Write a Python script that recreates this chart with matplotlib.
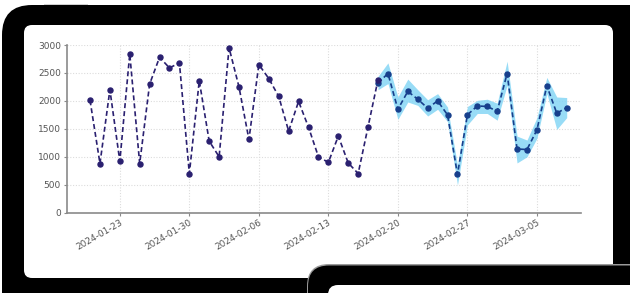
import matplotlib
matplotlib.use("Agg")
import matplotlib.pyplot as plt
import matplotlib.dates as mdates
from matplotlib.patches import FancyBboxPatch
import numpy as np
import pandas as pd

# historical series (daily)
hist_start = "2024-01-20"
hist_values = [2010, 880, 2200, 920, 2840, 880, 2300, 2780, 2590, 2680,
               700, 2360, 1280, 1000, 2950, 2250, 1310, 2650, 2400, 2080,
               1460, 1990, 1530, 1000, 900, 1370, 890, 700, 1540, 2380]

# forecast series with confidence band
fc_start = "2024-02-18"
fc_values = [2320, 2490, 1850, 2170, 2030, 1870, 2000, 1750, 685, 1750,
             1910, 1900, 1815, 2490, 1140, 1130, 1480, 2270, 1780, 1880]
fc_upper = [2440, 2680, 2070, 2390, 2200, 2020, 2130, 1890, 850, 1900,
            2010, 2030, 1960, 2710, 1370, 1300, 1700, 2420, 2070, 2060]
fc_lower = [2200, 2310, 1670, 1980, 1920, 1730, 1850, 1630, 495, 1570,
            1775, 1775, 1655, 2280, 890, 1000, 1330, 2130, 1490, 1700]

tick_dates = ["2024-01-23", "2024-01-30", "2024-02-06", "2024-02-13",
              "2024-02-20", "2024-02-27", "2024-03-05"]

hist_dates = pd.date_range(hist_start, periods=len(hist_values), freq="D")
fc_dates = pd.date_range(fc_start, periods=len(fc_values), freq="D")

W, H = 630, 293
fig = plt.figure(figsize=(W / 100, H / 100), dpi=100)
fig.patch.set_facecolor("white")

# device frame drawn in pixel coordinates
bg = fig.add_axes([0, 0, 1, 1], zorder=0)
bg.set_xlim(0, W)
bg.set_ylim(H, 0)
bg.axis("off")

def rbox(x0, y0, x1, y1, r, color, z):
    bg.add_patch(FancyBboxPatch((x0 + r, y0 + r), (x1 - x0) - 2 * r, (y1 - y0) - 2 * r,
                                boxstyle=f"round,pad={r}", fc=color, ec="none", zorder=z))

rbox(2, 5, 680, 340, 30, "black", 1)
rbox(24, 25, 613, 278, 8, "white", 2)
bg.add_patch(plt.Rectangle((44, 3.5), 44, 1.5, fc="#d0d0d0", ec="none", zorder=0.5))
rbox(307, 264, 700, 400, 22, "#9a9a9a", 3)
rbox(308, 265.5, 700, 400, 21, "black", 3.5)
rbox(328, 285, 700, 400, 10, "white", 4)

# chart axes
ax_l, ax_r, ax_t, ax_b = 66.5, 580.7, 45, 212.7
ax = fig.add_axes([ax_l / W, (H - ax_b) / H, (ax_r - ax_l) / W, (ax_b - ax_t) / H], zorder=5)
ax.set_facecolor("white")

ax.fill_between(fc_dates, fc_lower, fc_upper, color="#86d6f5", alpha=0.85, lw=0, zorder=2)
ax.plot(fc_dates, fc_values, ls="--", dashes=(3, 1.8), color="#173f8c", lw=1.2,
        marker="o", ms=3.6, zorder=3)
ax.plot(hist_dates, hist_values, ls="--", dashes=(3, 1.8), color="#2a2070", lw=1.2,
        marker="o", ms=3.6, zorder=4)

x0 = hist_dates[0] - pd.Timedelta(days=2.37)
x1 = fc_dates[-1] + pd.Timedelta(days=1.41)
ax.set_xlim(x0, x1)
ax.set_ylim(0, 3000)
ax.set_yticks(np.arange(0, 3001, 500))
ax.set_xticks(pd.to_datetime(tick_dates))
ax.xaxis.set_major_formatter(mdates.DateFormatter("%Y-%m-%d"))

for s in ["top", "right"]:
    ax.spines[s].set_visible(False)
for s in ["left", "bottom"]:
    ax.spines[s].set_color("#8a8a8a")
    ax.spines[s].set_linewidth(1.2)

ax.grid(True, color="#dcdcdc", ls=(0, (1, 1.5)), lw=0.8)
ax.set_axisbelow(True)
ax.tick_params(axis="both", labelsize=6.5, labelcolor="#555555", color="#8a8a8a",
               length=2.5, width=0.8, pad=1.5)
plt.setp(ax.get_xticklabels(), rotation=30, ha="right", rotation_mode="anchor")

fig.savefig("out.png", dpi=100)
